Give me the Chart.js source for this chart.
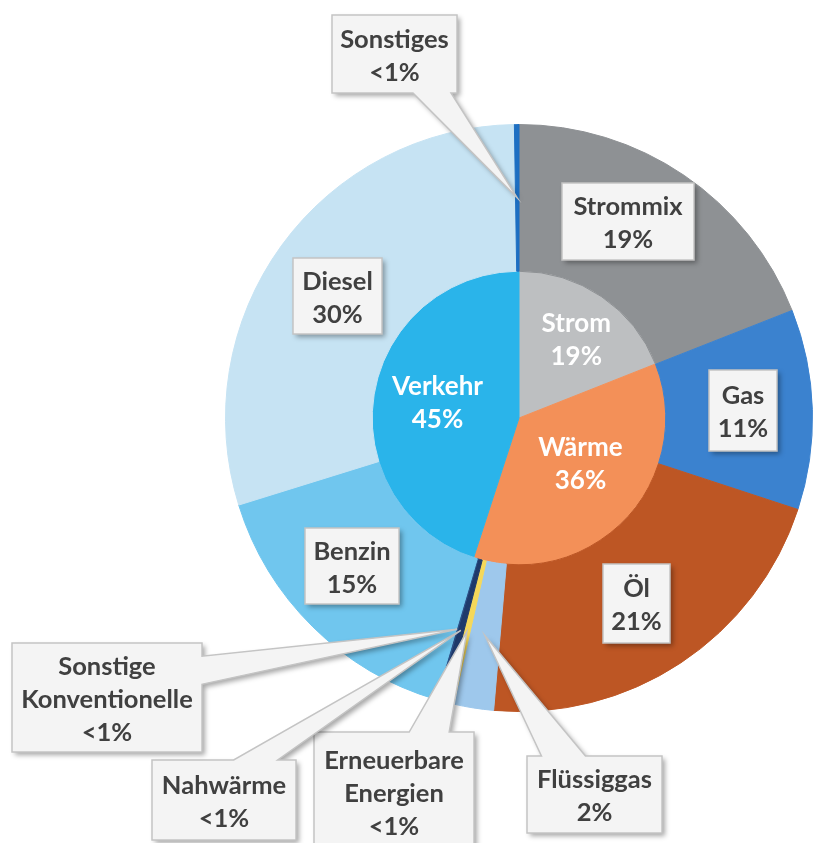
<!DOCTYPE html>
<html>
<head>
<meta charset="utf-8">
<script src="https://cdn.jsdelivr.net/npm/chart.js@4"></script>
<style>
  html, body { margin: 0; padding: 0; background: #ffffff; }
  #wrap { width: 813px; height: 843px; }
</style>
</head>
<body>
<div id="wrap"><canvas id="energy-chart" width="813" height="843"></canvas></div>
<script>
// ---- data (outer ring = Energieträger, inner pie = Sektoren) ----
const outerLabels = ['Strommix', 'Gas', 'Öl', 'Flüssiggas', 'Erneuerbare Energien', 'Nahwärme',
                     'Sonstige Konventionelle', 'Benzin', 'Diesel', 'Sonstiges'];
const outerValues = [19, 11, 21.3, 2.2, 0.45, 0.45, 0.1, 15.6, 29.5, 0.25];
const outerPct    = ['19%', '11%', '21%', '2%', '<1%', '<1%', '<1%', '15%', '30%', '<1%'];

const innerLabels = ['Strom', 'Wärme', 'Verkehr'];
const innerValues = [19, 36, 45];
const innerPct    = ['19%', '36%', '45%'];

// ---- styling ----
const outerColors = ['#8e9194', '#3b82cf', '#bd5624', '#9ec8ec', '#f5d85a', '#1f3a6b',
                     '#2a4f86', '#70c6ee', '#c6e3f3', '#1d6fc2'];
const innerColors = ['#bdbfc1', '#f39058', '#2ab4ea'];

const FONT = 'bold 25.5px Lato, "Open Sans", sans-serif';
const INNER_FONT = 'bold 26px Lato, "Open Sans", sans-serif';
const LINE_H = 33;

// label boxes (canvas px). pointer: edge + position along edge (0..1) + base width
const boxLayout = {
  'Strommix':                { x: 562, y: 183, w: 132, h: 77 },
  'Gas':                     { x: 709, y: 370, w: 68,  h: 81 },
  'Öl':                      { x: 603, y: 564, w: 67,  h: 79 },
  'Benzin':                  { x: 305, y: 528, w: 94,  h: 76 },
  'Diesel':                  { x: 293, y: 258, w: 89,  h: 76 },
  'Sonstiges':               { x: 332, y: 15,  w: 125, h: 78,  edge: 'bottom', at: 0.8,  base: 38 },
  'Sonstige Konventionelle': { x: 12,  y: 643, w: 190, h: 109, edge: 'right',  at: 0.25, base: 28 },
  'Nahwärme':                { x: 152, y: 760, w: 144, h: 80,  edge: 'top',    at: 0.72, base: 44 },
  'Erneuerbare Energien':    { x: 314, y: 732, w: 160, h: 125, edge: 'top',    at: 0.72, base: 40, ty: 794 },
  'Flüssiggas':              { x: 527, y: 756, w: 135, h: 77,  edge: 'top',    at: 0.27, base: 44 },
};
// nudges for the white labels in the inner pie
const innerNudge = { 'Strom': [16, -17], 'Wärme': [8, -4], 'Verkehr': [-9, -3] };

function calloutPath(ctx, b, tip) {
  const { x, y, w, h } = b;
  ctx.beginPath();
  ctx.moveTo(x, y);
  if (b.edge === 'top') {
    const c = x + w * b.at;
    ctx.lineTo(c - b.base / 2, y); ctx.lineTo(tip.x, tip.y); ctx.lineTo(c + b.base / 2, y);
  }
  ctx.lineTo(x + w, y);
  if (b.edge === 'right') {
    const c = y + h * b.at;
    ctx.lineTo(x + w, c - b.base / 2); ctx.lineTo(tip.x, tip.y); ctx.lineTo(x + w, c + b.base / 2);
  }
  ctx.lineTo(x + w, y + h);
  if (b.edge === 'bottom') {
    const c = x + w * b.at;
    ctx.lineTo(c + b.base / 2, y + h); ctx.lineTo(tip.x, tip.y); ctx.lineTo(c - b.base / 2, y + h);
  }
  ctx.lineTo(x, y + h);
  if (b.edge === 'left') {
    const c = y + h * b.at;
    ctx.lineTo(x, c + b.base / 2); ctx.lineTo(tip.x, tip.y); ctx.lineTo(x, c - b.base / 2);
  }
  ctx.closePath();
}

const labelPlugin = {
  id: 'energyLabels',
  afterDatasetsDraw(chart) {
    const ctx = chart.ctx;
    ctx.save();
    ctx.textAlign = 'center';
    ctx.textBaseline = 'middle';

    // inner pie labels
    ctx.font = INNER_FONT;
    const innerMeta = chart.getDatasetMeta(1);
    innerMeta.data.forEach((arc, i) => {
      const p = arc.tooltipPosition();
      const n = innerNudge[innerLabels[i]] || [0, 0];
      ctx.fillStyle = '#ffffff';
      ctx.fillText(innerLabels[i], p.x + n[0], p.y + n[1] - LINE_H / 2);
      ctx.fillText(innerPct[i], p.x + n[0], p.y + n[1] + LINE_H / 2);
    });

    // outer ring label boxes
    ctx.font = FONT;
    const outerMeta = chart.getDatasetMeta(0);
    outerMeta.data.forEach((arc, i) => {
      const b = boxLayout[outerLabels[i]];
      if (!b) return;
      const tip = arc.tooltipPosition();
      ctx.save();
      ctx.shadowColor = 'rgba(0,0,0,0.35)';
      ctx.shadowBlur = 5;
      ctx.shadowOffsetX = 3;
      ctx.shadowOffsetY = 3;
      if (b.edge) calloutPath(ctx, b, tip);
      else { ctx.beginPath(); ctx.rect(b.x, b.y, b.w, b.h); }
      ctx.fillStyle = '#f4f4f4';
      ctx.fill();
      ctx.restore();
      ctx.lineWidth = 1.5;
      ctx.strokeStyle = '#c4c4c4';
      ctx.stroke();

      const lines = outerLabels[i].split(' ').concat([outerPct[i]]);
      const cx = b.x + b.w / 2;
      const cy = b.ty || (b.y + b.h / 2 + 2);
      ctx.fillStyle = '#404040';
      lines.forEach((t, k) => {
        ctx.fillText(t, cx, cy + (k - (lines.length - 1) / 2) * LINE_H);
      });
    });
    ctx.restore();
  }
};

new Chart(document.getElementById('energy-chart'), {
  type: 'doughnut',
  data: {
    labels: outerLabels,
    datasets: [
      { data: outerValues, backgroundColor: outerColors, borderColor: outerColors, borderWidth: 1 },
      { data: innerValues, backgroundColor: innerColors, borderColor: innerColors, borderWidth: 1 },
    ]
  },
  options: {
    responsive: false,
    animation: false,
    cutout: 0,
    layout: { padding: { left: 225, right: 0, top: 124, bottom: 131 } },
    plugins: { legend: { display: false }, tooltip: { enabled: false } }
  },
  plugins: [labelPlugin]
});
</script>
</body>
</html>
